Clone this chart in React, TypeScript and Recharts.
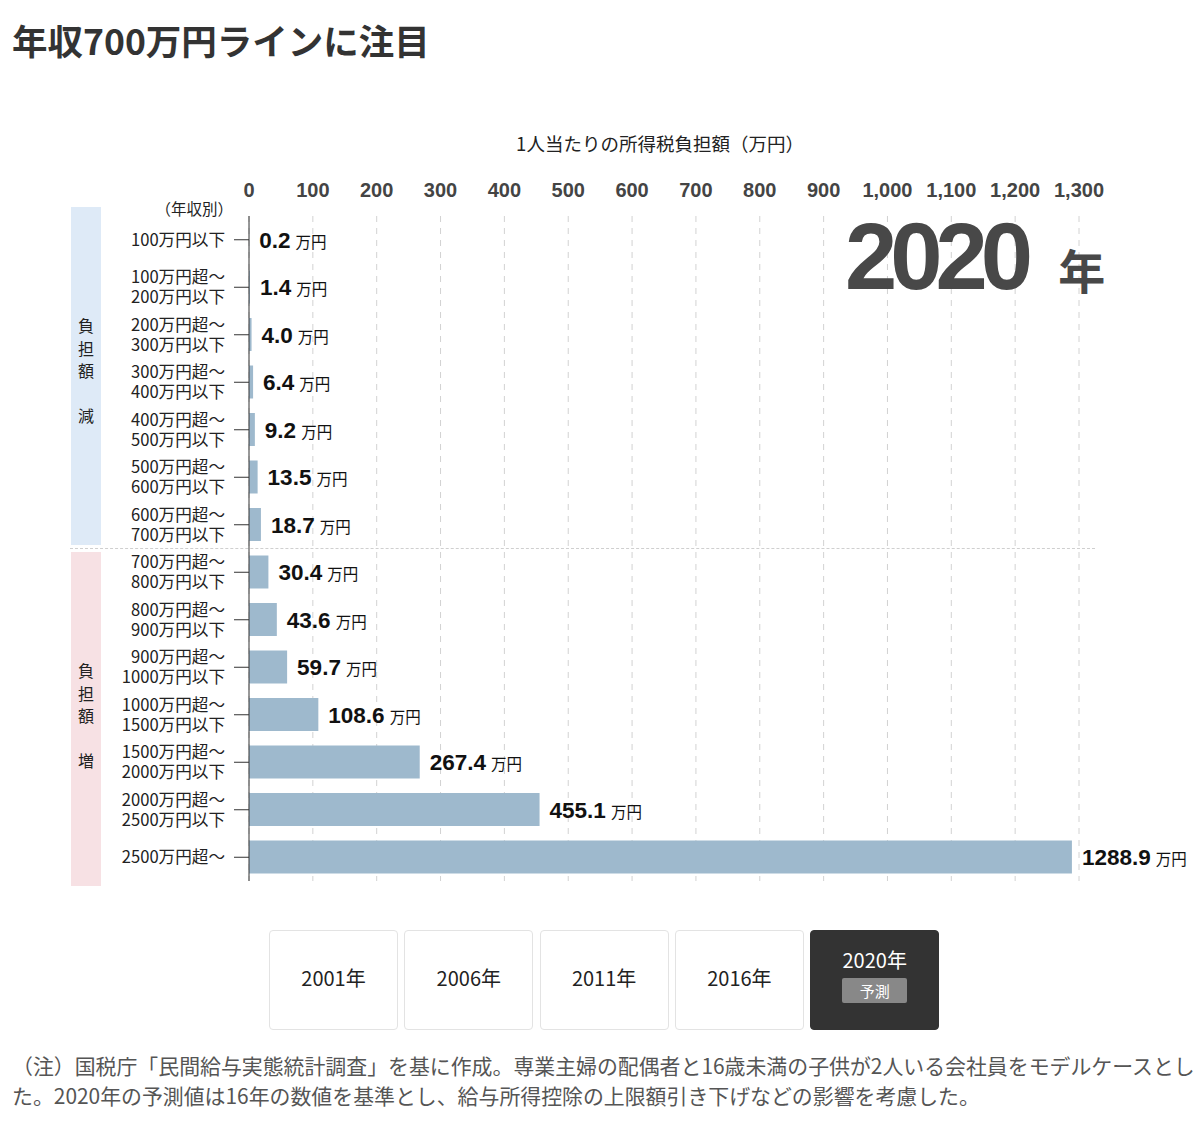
import React from 'react';
import { BarChart, Bar, XAxis, YAxis, CartesianGrid, LabelList } from 'recharts';

const incomeBands = [
  '100万円以下',
  '100万円超〜|200万円以下',
  '200万円超〜|300万円以下',
  '300万円超〜|400万円以下',
  '400万円超〜|500万円以下',
  '500万円超〜|600万円以下',
  '600万円超〜|700万円以下',
  '700万円超〜|800万円以下',
  '800万円超〜|900万円以下',
  '900万円超〜|1000万円以下',
  '1000万円超〜|1500万円以下',
  '1500万円超〜|2000万円以下',
  '2000万円超〜|2500万円以下',
  '2500万円超〜',
];

const taxBurden2020 = [0.2, 1.4, 4.0, 6.4, 9.2, 13.5, 18.7, 30.4, 43.6, 59.7, 108.6, 267.4, 455.1, 1288.9];

const xTicks = [0, 100, 200, 300, 400, 500, 600, 700, 800, 900, 1000, 1100, 1200, 1300];

const yearButtons = ['2001年', '2006年', '2011年', '2016年', '2020年'];

const chartData = incomeBands.map((band, i) => ({ band, value: taxBurden2020[i] }));

const NUM_FONT = '"Liberation Sans", Arial, "Noto Sans CJK JP", sans-serif';
const JP_FONT = '"Noto Sans CJK JP", "Noto Sans", sans-serif';

const XTick = (props: any) => {
  const { x, y, payload } = props;
  return (
    <text x={x} y={y} dy={-11} textAnchor="middle" fontFamily={NUM_FONT} fontWeight="bold" fontSize={20} fill="#444">
      {Number(payload.value).toLocaleString('en-US')}
    </text>
  );
};

const YTick = (props: any) => {
  const { x, y, payload } = props;
  const lines = String(payload.value).split('|');
  const offsets = lines.length === 1 ? [0] : [-9.8, 9.8];
  return (
    <text textAnchor="end" fontFamily={JP_FONT} fontSize={16.6} fill="#222">
      {lines.map((l, i) => (
        <tspan key={i} x={x} y={y + offsets[i] + 6}>
          {l}
        </tspan>
      ))}
    </text>
  );
};

const ValueLabel = (props: any) => {
  const { x, y, width, height, value } = props;
  return (
    <text x={x + width + 10} y={y + height / 2 + 8} fill="#111">
      <tspan fontFamily={NUM_FONT} fontWeight="bold" fontSize={22.5}>
        {Number(value).toFixed(1)}
      </tspan>
      <tspan fontFamily={JP_FONT} fontSize={15.5} dx={5}>
        万円
      </tspan>
    </text>
  );
};

const sideChars = (chars: string[], top: number) => (
  <div style={{ position: 'absolute', left: 71, top, width: 30, textAlign: 'center', fontFamily: JP_FONT, fontSize: 16, lineHeight: '22.5px', color: '#222' }}>
    {chars.map((c, i) => (
      <div key={i} style={{ height: 22.5 }}>{c}</div>
    ))}
  </div>
);

export default function App() {
  return (
    <div style={{ position: 'absolute', left: 0, top: 0, width: 1200, height: 1136, background: '#fff', overflow: 'hidden' }}>
      <div style={{ position: 'absolute', left: 12, top: 22, fontFamily: JP_FONT, fontWeight: 'bold', fontSize: 35.5, lineHeight: 1, color: '#333' }}>
        年収700万円ラインに注目
      </div>

      <div style={{ position: 'absolute', left: 0, width: 1320, top: 134, textAlign: 'center', fontFamily: JP_FONT, fontSize: 18.5, lineHeight: 1, color: '#222' }}>
        1人当たりの所得税負担額（万円）
      </div>

      <div style={{ position: 'absolute', left: 71, top: 207, width: 30, height: 338, background: '#deeaf7' }} />
      <div style={{ position: 'absolute', left: 71, top: 552, width: 30, height: 334, background: '#f7e1e4' }} />
      {sideChars(['負', '担', '額', '', '減'], 314)}
      {sideChars(['負', '担', '額', '', '増'], 659)}

      <div style={{ position: 'absolute', left: 70, top: 548, width: 1025, borderTop: '1px dashed #cfcfcf' }} />

      <div style={{ position: 'absolute', right: 1200 - 233, top: 201, fontFamily: JP_FONT, fontSize: 15.5, lineHeight: 1, color: '#222' }}>
        （年収別）
      </div>

      <div style={{ position: 'absolute', left: 0, top: 0 }}>
        <BarChart
          width={1200}
          height={900}
          data={chartData}
          layout="vertical"
          margin={{ top: 186, right: 121, left: 0, bottom: 19 }}
        >
          <CartesianGrid horizontal={false} stroke="#d2d2d2" strokeDasharray="6 6" />
          <XAxis
            type="number"
            orientation="top"
            domain={[0, 1300]}
            ticks={xTicks}
            axisLine={false}
            tickLine={false}
            tick={<XTick />}
            height={30}
          />
          <YAxis
            type="category"
            dataKey="band"
            width={249}
            tick={<YTick />}
            tickSize={15}
            tickMargin={9}
            axisLine={{ stroke: '#333' }}
            tickLine={{ stroke: '#333' }}
            interval={0}
          />
          <Bar dataKey="value" fill="#9eb9cd" barSize={33} isAnimationActive={false}>
            <LabelList dataKey="value" content={<ValueLabel />} />
          </Bar>
        </BarChart>
      </div>

      <div style={{ position: 'absolute', left: 845, top: 210, whiteSpace: 'nowrap', color: '#484848', lineHeight: 1 }}>
        <span style={{ fontFamily: NUM_FONT, fontWeight: 'bold', fontSize: 94, letterSpacing: -7 }}>2020</span>
        <span style={{ fontFamily: JP_FONT, fontWeight: 'bold', fontSize: 47, marginLeft: 32 }}>年</span>
      </div>

      {yearButtons.map((label, i) => {
        const active = i === yearButtons.length - 1;
        return (
          <div
            key={label}
            style={{
              position: 'absolute',
              left: 269 + i * 135.3,
              top: 930,
              width: 129,
              height: 100,
              boxSizing: 'border-box',
              border: active ? '1px solid #333' : '1px solid #e3e3e3',
              borderRadius: 4,
              background: active ? '#333' : '#fff',
              color: active ? '#fff' : '#222',
              fontFamily: JP_FONT,
              display: 'flex',
              flexDirection: 'column',
              alignItems: 'center',
              justifyContent: 'center',
            }}
          >
            <div style={{ fontSize: 20, lineHeight: 1, marginTop: active ? -8 : -4 }}>{label}</div>
            {active && (
              <div style={{ marginTop: 8, width: 65, height: 25, background: '#888', borderRadius: 2, fontSize: 15, lineHeight: '25px', textAlign: 'center', color: '#fff' }}>
                予測
              </div>
            )}
          </div>
        );
      })}

      <div style={{ position: 'absolute', left: 12, top: 1050, fontFamily: JP_FONT, fontSize: 20.9, lineHeight: '30px', color: '#555', whiteSpace: 'nowrap' }}>
        （注）国税庁「民間給与実態統計調査」を基に作成。専業主婦の配偶者と16歳未満の子供が2人いる会社員をモデルケースとし
        <br />
        た。2020年の予測値は16年の数値を基準とし、給与所得控除の上限額引き下げなどの影響を考慮した。
      </div>
    </div>
  );
}
